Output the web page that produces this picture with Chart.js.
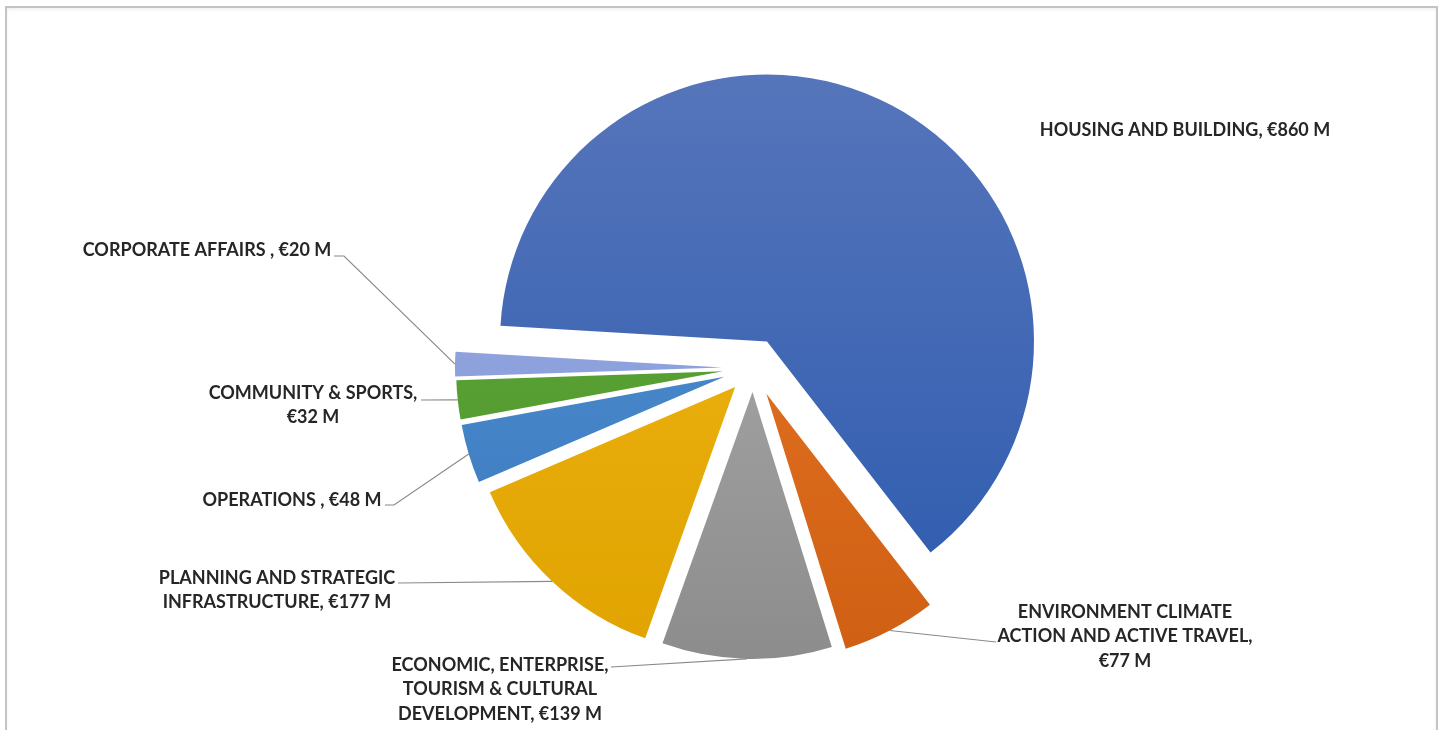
<!DOCTYPE html>
<html>
<head>
<meta charset="utf-8">
<title>Capital budget by programme</title>
<script src="https://cdn.jsdelivr.net/npm/chart.js@4.4.1/dist/chart.umd.min.js"></script>
<style>
  html, body { margin: 0; padding: 0; background: #fff; overflow: hidden; }
  #wrap { position: relative; width: 1444px; height: 730px; }
  #frame {
    position: absolute; left: 5px; top: 6px; width: 1429px; height: 740px;
    border: 2px solid #c4c4c4; box-shadow: inset 0 2px 3px rgba(0,0,0,0.06);
    pointer-events: none;
  }
  canvas { position: absolute; left: 0; top: 0; }
</style>
</head>
<body>
<div id="wrap">
  <canvas id="pie" width="1444" height="730"></canvas>
  <div id="frame"></div>
</div>
<script>
/* ---------- Data ---------- */
const categories = [
  "HOUSING AND BUILDING",
  "ENVIRONMENT CLIMATE ACTION AND ACTIVE TRAVEL",
  "ECONOMIC, ENTERPRISE, TOURISM & CULTURAL DEVELOPMENT",
  "PLANNING AND STRATEGIC INFRASTRUCTURE",
  "OPERATIONS ",
  "COMMUNITY & SPORTS",
  "CORPORATE AFFAIRS "
];
const budgetM = [860, 77, 139, 177, 48, 32, 20];
const currency = "€";
const unit = "M";

/* ---------- Style / layout ---------- */
// gradient fill per slice: [top, bottom]
const fills = [
  ["#5675bb", "#2b5aae"],
  ["#ec7a2c", "#cf5f12"],
  ["#b4b4b4", "#8c8c8c"],
  ["#f2b919", "#e0a300"],
  ["#5595d4", "#3877bd"],
  ["#66ad40", "#4a9127"],
  ["#9aaee6", "#8194d4"]
];
const explode = [30, 29, 24, 26, 30, 30, 31];   // px each slice is pulled out
const RADIUS = 267;
const START = -86.6;                              // degrees, clockwise from 12 o'clock

// label block: centre x, first line centre y, wrap width, leader start (+ optional elbow)
const labelLayout = [
  { cx: 1185, y: 130, wrap: 400 },
  { cx: 1125, y: 612, wrap: 265, lead: [996, 642] },
  { cx: 500,  y: 665, wrap: 232, lead: [611, 667] },
  { cx: 277,  y: 578, wrap: 250, lead: [398, 583] },
  { cx: 292,  y: 500, wrap: 400, lead: [385, 505], elbow: 9 },
  { cx: 313,  y: 393, wrap: 235, lead: [421, 400] },
  { cx: 207,  y: 250, wrap: 400, lead: [334, 256], elbow: 10 }
];
const LINE_H = 24.5;
const FONT = "bold 18px Lato";

/* ---------- Helpers ---------- */
const labelText = (i) => `${categories[i]}, ${currency}${budgetM[i]} ${unit}`;

function wrapText(ctx, text, maxW) {
  const words = text.split(" ");
  const lines = [];
  let cur = "";
  words.forEach(w => {
    const t = cur ? cur + " " + w : w;
    if (cur && ctx.measureText(t).width > maxW) { lines.push(cur); cur = w; }
    else cur = t;
  });
  if (cur) lines.push(cur);
  return lines;
}

/* ---------- Plugins ---------- */
// pull slices out along their bisector (exploded pie)
const explodePlugin = {
  id: "explode",
  afterDatasetUpdate(chart) {
    chart.getDatasetMeta(0).data.forEach((arc, i) => {
      const mid = (arc.startAngle + arc.endAngle) / 2;
      arc.x += Math.cos(mid) * explode[i];
      arc.y += Math.sin(mid) * explode[i];
    });
  }
};

const labelPlugin = {
  id: "sliceLabels",
  afterDatasetsDraw(chart) {
    const ctx = chart.ctx;
    const arcs = chart.getDatasetMeta(0).data;
    ctx.save();
    ctx.font = FONT;
    arcs.forEach((arc, i) => {
      const L = labelLayout[i];
      if (L.lead) {
        const mid = (arc.startAngle + arc.endAngle) / 2;
        const ax = arc.x + Math.cos(mid) * arc.outerRadius;
        const ay = arc.y + Math.sin(mid) * arc.outerRadius;
        ctx.strokeStyle = "#8a8a8a";
        ctx.lineWidth = 1.2;
        ctx.beginPath();
        ctx.moveTo(L.lead[0], L.lead[1]);
        if (L.elbow) ctx.lineTo(L.lead[0] + L.elbow, L.lead[1]);
        ctx.lineTo(ax, ay);
        ctx.stroke();
      }
      ctx.fillStyle = "#262626";
      ctx.textAlign = "center";
      ctx.textBaseline = "middle";
      wrapText(ctx, labelText(i), L.wrap).forEach((line, k) => {
        ctx.fillText(line, L.cx, L.y + k * LINE_H);
      });
    });
    ctx.restore();
  }
};

/* ---------- Chart ---------- */
const sliceFill = (c) => {
  const { chart, dataIndex } = c;
  const area = chart.chartArea;
  const f = fills[dataIndex];
  if (!area) return f[0];
  const cy = (area.top + area.bottom) / 2;
  const g = chart.ctx.createLinearGradient(0, cy - RADIUS - 30, 0, cy + RADIUS + 30);
  g.addColorStop(0, f[0]);
  g.addColorStop(1, f[1]);
  return g;
};

new Chart(document.getElementById("pie"), {
  type: "pie",
  data: {
    labels: categories,
    datasets: [{
      data: budgetM,
      backgroundColor: sliceFill,
      borderWidth: 0
    }]
  },
  options: {
    responsive: false,
    animation: false,
    rotation: START,
    radius: RADIUS,
    layout: { padding: { left: 62, top: 6, right: 0, bottom: 0 } },
    plugins: {
      legend: { display: false },
      tooltip: { enabled: false }
    }
  },
  plugins: [explodePlugin, labelPlugin]
});
</script>
</body>
</html>
